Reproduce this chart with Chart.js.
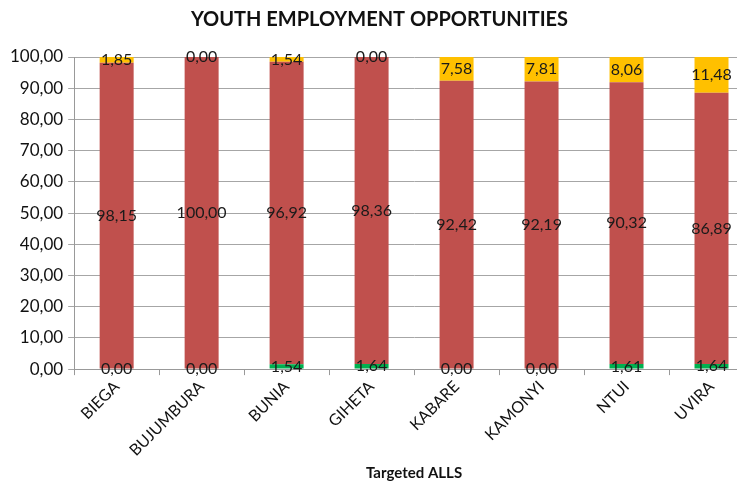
<!DOCTYPE html>
<html>
<head>
<meta charset="utf-8">
<script src="https://cdn.jsdelivr.net/npm/chart.js@4.4.0/dist/chart.umd.min.js"></script>
<style>
  html, body { margin: 0; padding: 0; background: #fff; overflow: hidden; }
  #wrap { position: relative; width: 756px; height: 486px; }
</style>
</head>
<body>
<div id="wrap"><canvas id="chart"></canvas></div>
<script>
// categories + series values (percent)
const sites = ["BIEGA", "BUJUMBURA", "BUNIA", "GIHETA", "KABARE", "KAMONYI", "NTUI", "UVIRA"];
const greenVals = [0.00, 0.00, 1.54, 1.64, 0.00, 0.00, 1.61, 1.64];
const redVals = [98.15, 100.00, 96.92, 98.36, 92.42, 92.19, 90.32, 86.89];
const yellowVals = [1.85, 0.00, 1.54, 0.00, 7.58, 7.81, 8.06, 11.48];
const yTicks = [0, 10, 20, 30, 40, 50, 60, 70, 80, 90, 100];

const fmt = v => v.toFixed(2).replace(".", ",");

// draw value in the middle of each segment
const segLabels = {
  id: "segLabels",
  afterDatasetsDraw(chart) {
    const ctx = chart.ctx;
    ctx.save();
    ctx.font = "16px Lato";
    ctx.fillStyle = "#1a1a1a";
    ctx.textAlign = "center";
    ctx.textBaseline = "middle";
    chart.data.datasets.forEach((ds, i) => {
      chart.getDatasetMeta(i).data.forEach((bar, j) => {
        const p = bar.getCenterPoint();
        ctx.fillText(fmt(ds.data[j]), p.x, p.y);
      });
    });
    ctx.restore();
  }
};

new Chart(document.getElementById("chart"), {
  type: "bar",
  data: {
    labels: sites,
    datasets: [
      { label: "green", data: greenVals, backgroundColor: "#00B050" },
      { label: "red", data: redVals, backgroundColor: "#C0504D" },
      { label: "yellow", data: yellowVals, backgroundColor: "#FFC000" }
    ]
  },
  options: {
    responsive: true,
    maintainAspectRatio: false,
    animation: false,
    layout: { padding: { left: 5, right: 2, top: 4, bottom: 0 } },
    datasets: { bar: { barPercentage: 0.4, categoryPercentage: 1 } },
    plugins: {
      legend: { display: false },
      tooltip: { enabled: false },
      title: {
        display: true,
        text: "YOUTH EMPLOYMENT OPPORTUNITIES",
        color: "#111",
        font: { family: "Lato", size: 20, weight: "bold" },
        padding: { top: 4, bottom: 25 }
      }
    },
    scales: {
      x: {
        stacked: true,
        ticks: {
          color: "#111",
          font: { family: "Lato", size: 16 },
          minRotation: 45,
          maxRotation: 45,
          padding: 2
        },
        grid: { drawOnChartArea: false, drawTicks: true, tickLength: 6, color: "#999" },
        border: { color: "#999" },
        title: {
          display: true,
          text: "Targeted ALLS",
          color: "#111",
          font: { family: "Lato", size: 15, weight: "bold" },
          padding: { top: 2 }
        }
      },
      y: {
        stacked: true,
        min: 0,
        max: 100,
        afterBuildTicks: axis => { axis.ticks = yTicks.map(v => ({ value: v })); },
        ticks: {
          color: "#111",
          font: { family: "Lato", size: 17 },
          callback: v => fmt(v),
          padding: 5
        },
        grid: { color: "#a6a6a6", tickLength: 6 },
        border: { color: "#999" }
      }
    }
  },
  plugins: [segLabels]
});
</script>
</body>
</html>
